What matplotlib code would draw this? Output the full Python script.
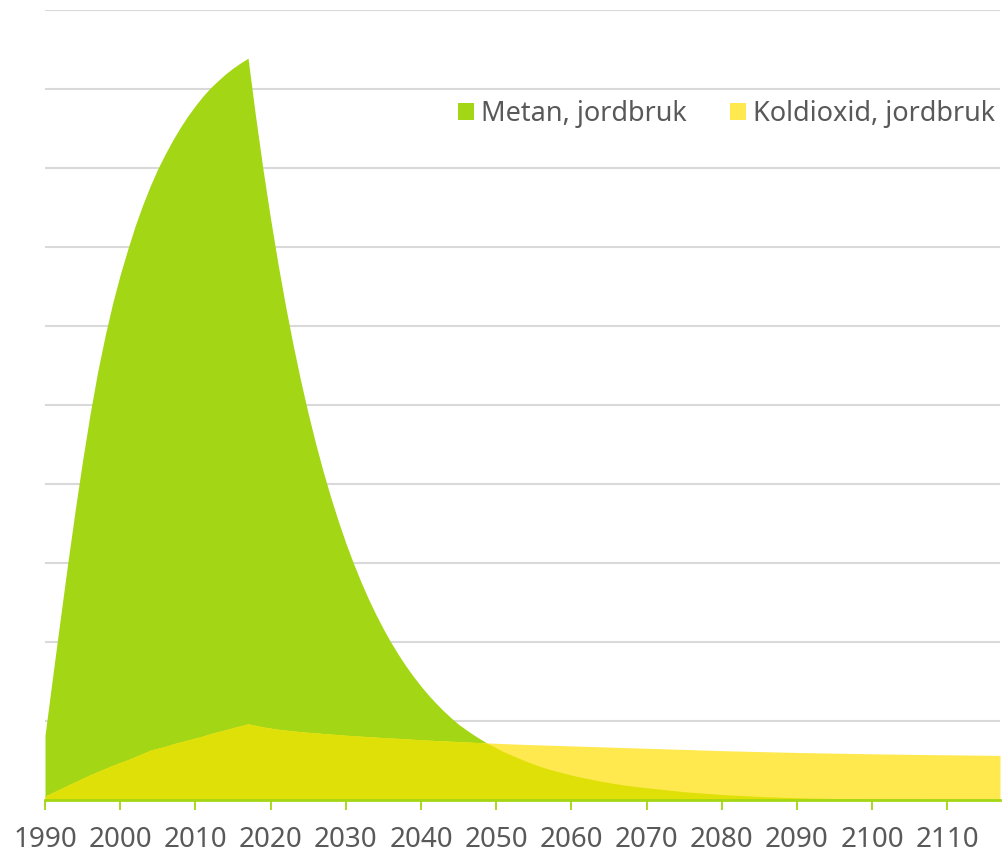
import numpy as np
import matplotlib
matplotlib.use("Agg")
import matplotlib.pyplot as plt
from matplotlib.patches import Patch

# Year axis (annual to 2070, then five-year steps)
years = [1990, 1991, 1992, 1993, 1994, 1995, 1996, 1997, 1998, 1999,
         2000, 2001, 2002, 2003, 2004, 2005, 2006, 2007, 2008, 2009,
         2010, 2011, 2012, 2013, 2014, 2015, 2016, 2017, 2018, 2019,
         2020, 2021, 2022, 2023, 2024, 2025, 2026, 2027, 2028, 2029,
         2030, 2031, 2032, 2033, 2034, 2035, 2036, 2037, 2038, 2039,
         2040, 2041, 2042, 2043, 2044, 2045, 2046, 2047, 2048, 2049,
         2050, 2051, 2052, 2053, 2054, 2055, 2056, 2057, 2058, 2059,
         2060, 2061, 2062, 2063, 2064, 2065, 2066, 2067, 2068, 2069,
         2070, 2075, 2080, 2085, 2090, 2095, 2100, 2105, 2110, 2115,
         2117]

# Methane from agriculture
metan = [0.82, 1.55, 2.27, 2.98, 3.66, 4.30, 4.89, 5.42, 5.88, 6.29,
         6.65, 6.97, 7.27, 7.535, 7.775, 7.99, 8.18, 8.355, 8.515, 8.66,
         8.79, 8.91, 9.015, 9.105, 9.19, 9.265, 9.33, 9.39, 8.655, 7.977,
         7.353, 6.777, 6.247, 5.758, 5.307, 4.892, 4.509, 4.156, 3.831, 3.531,
         3.254, 3.000, 2.765, 2.548, 2.349, 2.165, 1.995, 1.839, 1.695, 1.563,
         1.440, 1.328, 1.224, 1.128, 1.040, 0.958, 0.89, 0.825, 0.765, 0.71,
         0.66, 0.61, 0.57, 0.53, 0.49, 0.455, 0.42, 0.39, 0.365, 0.34,
         0.315, 0.295, 0.275, 0.255, 0.237, 0.22, 0.205, 0.19, 0.178, 0.166,
         0.155, 0.105, 0.07, 0.045, 0.028, 0.018, 0.012, 0.008, 0.005, 0.004,
         0.003]

# Carbon dioxide from agriculture
koldioxid = [0.05, 0.095, 0.14, 0.185, 0.23, 0.275, 0.32, 0.36, 0.40, 0.44,
             0.475, 0.51, 0.55, 0.59, 0.63, 0.655, 0.68, 0.71, 0.735, 0.76,
             0.785, 0.81, 0.84, 0.865, 0.89, 0.915, 0.94, 0.965, 0.945, 0.925,
             0.91, 0.895, 0.885, 0.875, 0.865, 0.857, 0.85, 0.842, 0.835, 0.828,
             0.82, 0.814, 0.808, 0.802, 0.796, 0.79, 0.785, 0.78, 0.774, 0.768,
             0.763, 0.758, 0.753, 0.748, 0.744, 0.74, 0.735, 0.73, 0.726, 0.722,
             0.718, 0.714, 0.71, 0.707, 0.703, 0.70, 0.697, 0.694, 0.691, 0.688,
             0.685, 0.682, 0.679, 0.676, 0.673, 0.67, 0.667, 0.664, 0.661, 0.658,
             0.655, 0.64, 0.625, 0.613, 0.602, 0.593, 0.585, 0.578, 0.572, 0.567,
             0.565]

series_labels = ["Metan, jordbruk", "Koldioxid, jordbruk"]
x_ticks = list(range(1990, 2111, 10))

GREEN = "#a3d614"
YELLOW = "#ffe94f"
OVERLAP = "#dfe007"
TEXT = "#595959"
GRID = "#d9d9d9"

plt.rcParams["font.family"] = ["Noto Sans", "DejaVu Sans"]

W, H = 1002, 856
fig = plt.figure(figsize=(W / 100, H / 100), dpi=100)
ax = fig.add_axes([45 / W, (H - 800) / H, (1000 - 45) / W, 790 / H])

x = np.array(years)
m = np.array(metan)
k = np.array(koldioxid)

ax.fill_between(x, 0, m, color=GREEN, linewidth=0, zorder=1)
ax.fill_between(x, 0, k, color=YELLOW, linewidth=0, zorder=2)
ax.fill_between(x, 0, np.minimum(m, k), color=OVERLAP, linewidth=0, zorder=3)

ax.set_xlim(1990, 2117)
ax.set_ylim(0, 10)

ax.set_yticks(range(1, 11))
ax.yaxis.grid(True, color=GRID, linewidth=1.5)
ax.set_axisbelow(True)
ax.tick_params(axis="y", left=False, labelleft=False)

ax.set_xticks(x_ticks)
ax.set_xticklabels([str(t) for t in x_ticks])
ax.tick_params(axis="x", direction="out", length=7.5, width=1.3, color=GREEN,
               labelsize=20, labelcolor=TEXT, pad=11)

for side in ("top", "right", "left"):
    ax.spines[side].set_visible(False)
ax.spines["bottom"].set_color(GREEN)
ax.spines["bottom"].set_linewidth(2)
ax.spines["bottom"].set_zorder(5)

handles = [Patch(facecolor=GREEN, edgecolor="none"),
           Patch(facecolor=YELLOW, edgecolor="none")]
fig.legend(handles, series_labels, loc="center right",
           bbox_to_anchor=(995 / W, 1 - 114 / H), bbox_transform=fig.transFigure,
           ncol=2, frameon=False, fontsize=19.5, labelcolor=TEXT,
           handlelength=0.6, handleheight=0.6, handletextpad=0.25,
           columnspacing=1.6, borderpad=0, borderaxespad=0)

fig.savefig("out.png", dpi=100)
